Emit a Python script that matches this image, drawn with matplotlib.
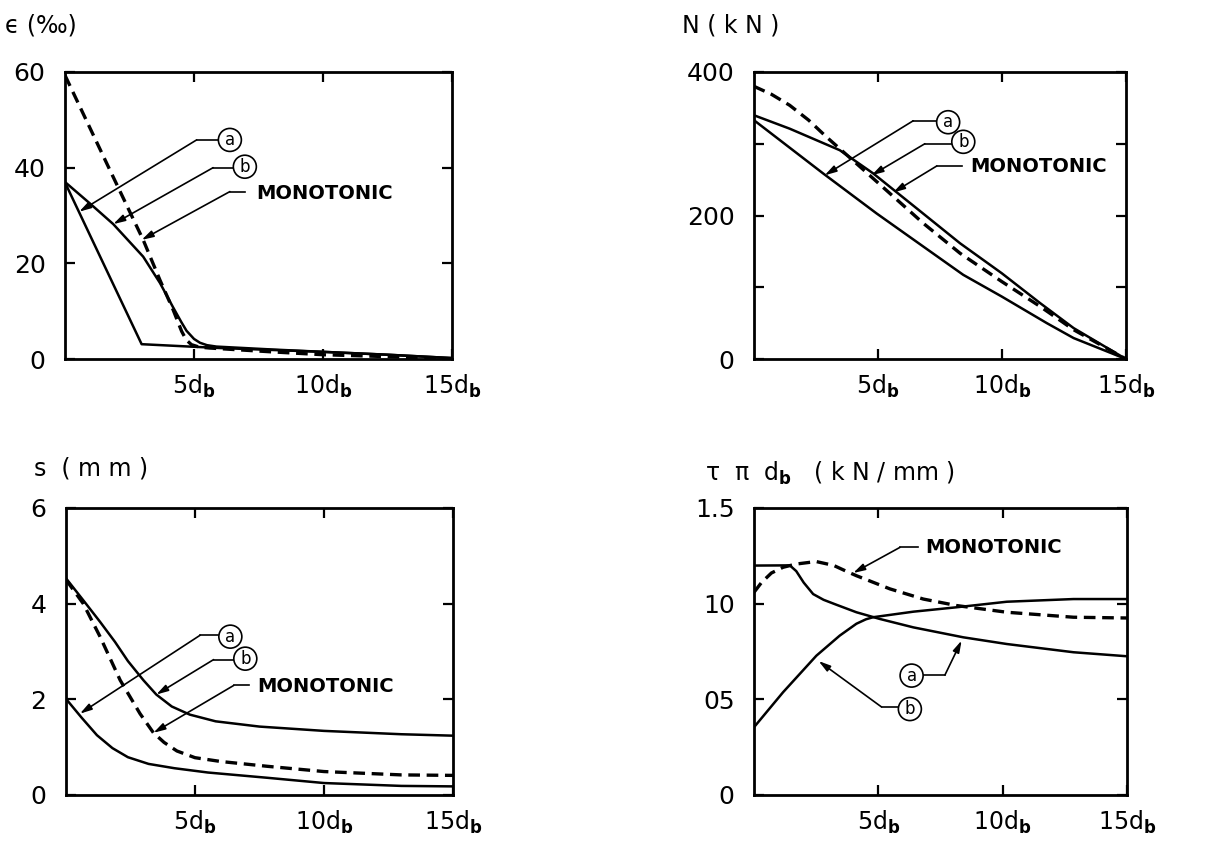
import numpy as np
import matplotlib
matplotlib.use("Agg")
import matplotlib.pyplot as plt

plt.rcParams['font.family'] = ['DejaVu Sans']
plt.rcParams['mathtext.fontset'] = 'dejavusans'

# ---- data (x in units of d_b) ----
# strain eps (per mille)
eps_a_x = [0, 2.97, 4.84, 6.0, 8.0, 10.0, 12.5, 15.0]
eps_a_y = [36.9, 3.1, 2.6, 2.3, 1.9, 1.5, 0.9, 0.2]
eps_b_x = [0, 0.97, 1.87, 3.03, 3.68, 4.19, 4.5, 4.71, 5.0, 5.23, 5.5, 5.87, 8.0, 10.0, 12.5, 15.0]
eps_b_y = [37.0, 32.5, 28.2, 21.4, 15.9, 10.8, 7.8, 5.9, 4.2, 3.4, 2.9, 2.6, 2.0, 1.5, 0.9, 0.2]
eps_m_x = [0, 1.74, 3.03, 3.68, 4.19, 4.52, 4.7, 4.9, 5.2, 5.6, 8.0, 10.0, 12.5, 15.0]
eps_m_y = [59.3, 39.5, 24.9, 16.5, 10.3, 5.8, 4.0, 3.0, 2.5, 2.3, 1.5, 0.9, 0.5, 0.0]

# bar force N (kN)
N_a_x = [0, 2.79, 4.94, 6.83, 8.44, 9.99, 11.81, 12.89, 15.0]
N_a_y = [332.8, 258.6, 203.0, 156.7, 117.3, 87.1, 50.0, 29.2, 0.0]
N_b_x = [0, 1.44, 3.46, 4.81, 6.56, 8.31, 9.99, 11.54, 12.89, 15.0]
N_b_y = [339.7, 321.0, 291.0, 258.6, 210.0, 161.3, 119.6, 77.9, 43.1, 0.0]
N_m_x = [0, 0.7, 1.44, 2.2, 2.92, 4.13, 5.48, 6.83, 8.31, 9.99, 11.54, 12.89, 15.0]
N_m_y = [380.0, 369.0, 353.6, 333.0, 309.6, 272.5, 230.8, 189.1, 147.4, 108.0, 73.2, 40.8, 0.0]

# slip s (mm)
s_a_x = [0, 0.6, 1.2, 1.8, 2.4, 3.2, 4.2, 5.5, 7.8, 10.0, 13.0, 15.0]
s_a_y = [2.01, 1.62, 1.25, 0.98, 0.79, 0.65, 0.56, 0.47, 0.36, 0.25, 0.19, 0.18]
s_b_x = [0, 0.7, 1.32, 1.9, 2.4, 3.0, 3.5, 4.1, 4.8, 5.8, 7.5, 10.0, 13.0, 15.0]
s_b_y = [4.53, 4.05, 3.62, 3.2, 2.8, 2.4, 2.1, 1.85, 1.68, 1.54, 1.43, 1.34, 1.27, 1.24]
s_m_x = [0, 0.67, 1.32, 2.1, 2.87, 3.39, 3.8, 4.3, 5.0, 6.0, 7.8, 10.0, 13.0, 15.0]
s_m_y = [4.50, 4.00, 3.31, 2.40, 1.70, 1.30, 1.10, 0.92, 0.78, 0.70, 0.60, 0.49, 0.42, 0.41]

# bond force per unit length tau*pi*d_b (kN/mm)
t_a_x = [0, 1.44, 1.7, 2.0, 2.38, 2.8, 3.3, 4.12, 5.06, 6.41, 8.42, 10.17, 12.85, 15.0]
t_a_y = [1.199, 1.20, 1.17, 1.11, 1.05, 1.02, 0.995, 0.955, 0.92, 0.876, 0.824, 0.789, 0.746, 0.725]
t_b_x = [0, 1.17, 2.51, 3.45, 4.12, 4.5, 4.79, 6.41, 8.15, 10.17, 12.85, 15.0]
t_b_y = [0.354, 0.537, 0.728, 0.833, 0.895, 0.918, 0.929, 0.958, 0.981, 1.01, 1.024, 1.024]
t_m_x = [0, 0.3, 0.7, 1.17, 1.7, 2.5, 3.2, 3.7, 4.12, 5.47, 6.81, 8.15, 10.17, 12.85, 15.0]
t_m_y = [1.059, 1.11, 1.16, 1.19, 1.207, 1.22, 1.20, 1.17, 1.146, 1.077, 1.024, 0.99, 0.955, 0.929, 0.925]

xticks = [5, 10, 15]
xtick_labels = [r'5d$_\mathbf{b}$', r'10d$_\mathbf{b}$', r'15d$_\mathbf{b}$']

fig = plt.figure(figsize=(12.22, 8.41), dpi=100)

w = 0.3167
h = 0.3413
ax1 = fig.add_axes([0.0532, 0.5731, w, h])
ax2 = fig.add_axes([0.617, 0.5731, 0.3044, h])
ax3 = fig.add_axes([0.0540, 0.0547, w, h])
ax4 = fig.add_axes([0.617, 0.0547, 0.3052, h])


def setup(ax, ymax, yticks, ylabels):
    ax.set_xlim(0, 15)
    ax.set_ylim(0, ymax)
    ax.set_xticks(xticks)
    ax.set_xticklabels(xtick_labels, fontsize=17)
    ax.set_yticks(yticks)
    ax.set_yticklabels(ylabels, fontsize=18)
    ax.tick_params(direction='in', length=7, width=1.6, top=True, right=True)
    ax.tick_params(axis='x', pad=10)
    ax.tick_params(axis='y', pad=14)
    for sp in ax.spines.values():
        sp.set_linewidth(2)


def curves(ax, xa, ya, xb, yb, xm, ym):
    ax.plot(xa, ya, color='k', lw=1.8)
    ax.plot(xb, yb, color='k', lw=1.8)
    ax.plot(xm, ym, color='k', lw=2.4, dashes=(3.5, 2))


def leader(ax, hx0, hx1, hy, tip):
    ax.plot([hx0, hx1], [hy, hy], color='k', lw=1.2)
    ax.annotate('', xy=tip, xytext=(hx0, hy),
                arrowprops=dict(arrowstyle='-|>,head_length=0.7,head_width=0.2',
                                color='k', lw=1.2, shrinkA=0, shrinkB=0))


def circ(ax, x, y, s):
    ax.text(x, y, s, fontsize=12, ha='center', va='center',
            bbox=dict(boxstyle='circle,pad=0.15', fc='white', ec='k', lw=1.2))


def mono(ax, x, y):
    ax.text(x, y, 'MONOTONIC', fontsize=14, fontweight='bold', ha='left', va='center')


# strain
curves(ax1, eps_a_x, eps_a_y, eps_b_x, eps_b_y, eps_m_x, eps_m_y)
setup(ax1, 60, [0, 20, 40, 60], ['0', '20', '40', '60'])
leader(ax1, 5.1, 5.94, 45.8, (0.55, 30.8))
circ(ax1, 6.39, 45.8, 'a')
leader(ax1, 5.74, 6.52, 40.0, (1.87, 28.2))
circ(ax1, 6.97, 40.2, 'b')
leader(ax1, 6.39, 6.97, 35.0, (2.97, 24.9))
mono(ax1, 7.42, 34.6)

# force
curves(ax2, N_a_x, N_a_y, N_b_x, N_b_y, N_m_x, N_m_y)
setup(ax2, 400, [0, 100, 200, 300, 400], ['0', '', '200', '', '400'])
leader(ax2, 6.42, 7.43, 332, (2.85, 256))
circ(ax2, 7.83, 330, 'a')
leader(ax2, 6.89, 7.97, 300, (4.74, 256))
circ(ax2, 8.44, 302.7, 'b')
leader(ax2, 7.37, 8.37, 269, (5.61, 232))
mono(ax2, 8.71, 268)

# slip
curves(ax3, s_a_x, s_a_y, s_b_x, s_b_y, s_m_x, s_m_y)
setup(ax3, 6, [0, 2, 4, 6], ['0', '2', '4', '6'])
leader(ax3, 5.2, 5.91, 3.34, (0.54, 1.7))
circ(ax3, 6.37, 3.31, 'a')
leader(ax3, 5.72, 6.5, 2.83, (3.5, 2.1))
circ(ax3, 6.95, 2.85, 'b')
leader(ax3, 6.5, 7.08, 2.29, (3.39, 1.30))
mono(ax3, 7.4, 2.26)

# bond
curves(ax4, t_a_x, t_a_y, t_b_x, t_b_y, t_m_x, t_m_y)
setup(ax4, 1.5, [0, 0.5, 1.0, 1.5], ['0', '05', '10', '1.5'])
leader(ax4, 5.87, 6.61, 1.294, (3.99, 1.16))
mono(ax4, 6.88, 1.294)
leader(ax4, 7.68, 6.81, 0.627, (8.35, 0.807))
circ(ax4, 6.34, 0.624, 'a')
leader(ax4, 5.13, 5.87, 0.46, (2.6, 0.70))
circ(ax4, 6.27, 0.449, 'b')

# axis titles
fig.text(0.004, 0.970, 'ϵ (‰)', fontsize=17, va='center')
fig.text(0.558, 0.970, 'N ( k N )', fontsize=17, va='center')
fig.text(0.028, 0.443, 's  ( m m )', fontsize=17, va='center')
fig.text(0.577, 0.437, r'τ  π  d$_\mathbf{b}$   ( k N / mm )', fontsize=17, va='center')

fig.savefig('out.png', dpi=100)
